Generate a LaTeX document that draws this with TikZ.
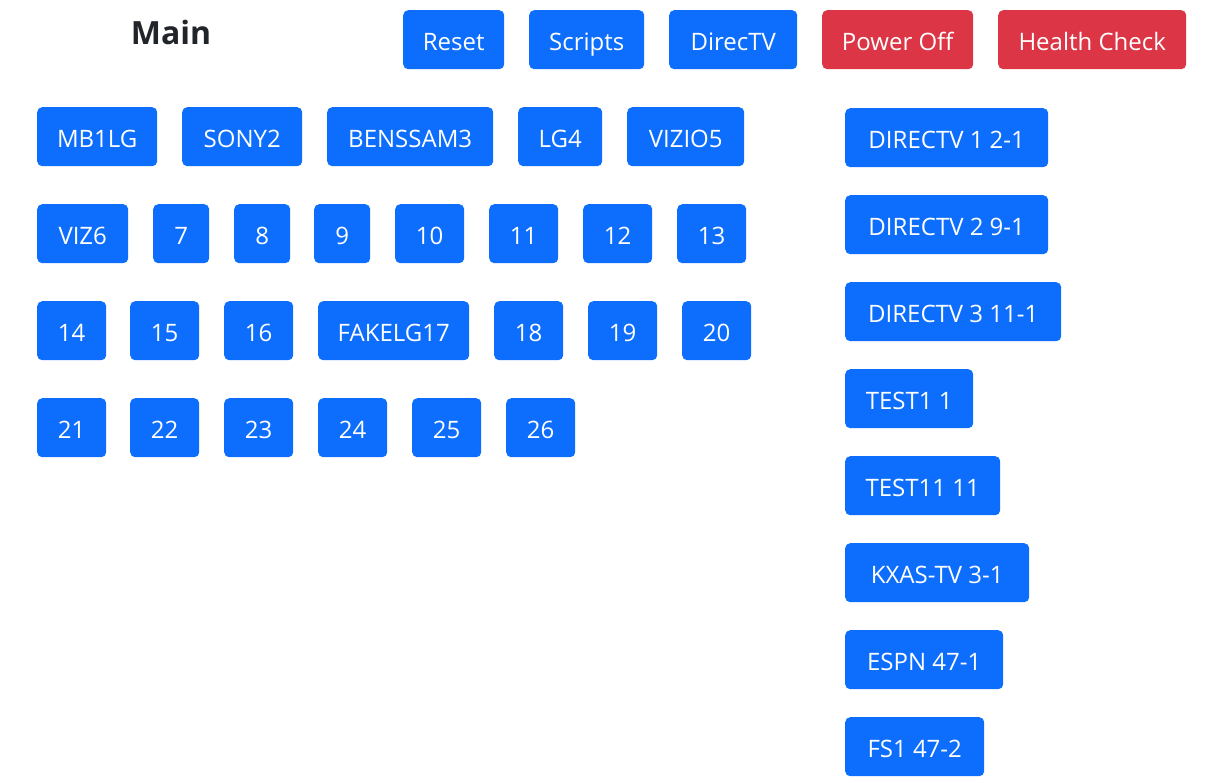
\documentclass[tikz,border=0pt]{standalone}
\usepackage{fontspec}
\setmainfont{Open Sans}
\definecolor{btnblue}{HTML}{0D6EFD}
\definecolor{btnred}{HTML}{DC3545}
\definecolor{headdark}{HTML}{212529}
\begin{document}
\begin{tikzpicture}[x=1pt,y=-1pt,
	btn/.style={anchor=north west,rounded corners=5pt,inner sep=0pt,
		minimum height=59pt,text height=22pt,text depth=0pt,text=white,
		font=\fontsize{24}{24}\selectfont},
	bluebtn/.style={btn,fill=btnblue},
	redbtn/.style={btn,fill=btnred}]
	\useasboundingbox (0,0) rectangle (1222,782);
	% heading and top bar
	\node[text=headdark,font=\fontsize{32}{32}\selectfont\bfseries] (main) at (171,32) {Main};
	\node[bluebtn,minimum width=101pt] (reset) at (403,10) {Reset};
	\node[bluebtn,minimum width=115pt] (scripts) at (529,10) {Scripts};
	\node[bluebtn,minimum width=128pt] (directv) at (669,10) {DirecTV};
	\node[redbtn,minimum width=151pt] (poweroff) at (822,10) {Power Off};
	\node[redbtn,minimum width=188pt] (health) at (998,10) {Health Check};
	% tv grid
	\node[bluebtn,minimum width=120pt] (tv1) at (37,107) {MB1LG};
	\node[bluebtn,minimum width=120pt] (tv2) at (182,107) {SONY2};
	\node[bluebtn,minimum width=166pt] (tv3) at (327,107) {BENSSAM3};
	\node[bluebtn,minimum width=84pt] (tv4) at (518,107) {LG4};
	\node[bluebtn,minimum width=117pt] (tv5) at (627,107) {VIZIO5};
	\node[bluebtn,minimum width=91pt] (tv6) at (37,204) {VIZ6};
	\node[bluebtn,minimum width=56pt] (tv7) at (153,204) {7};
	\node[bluebtn,minimum width=56pt] (tv8) at (234,204) {8};
	\node[bluebtn,minimum width=56pt] (tv9) at (314,204) {9};
	\node[bluebtn,minimum width=69pt] (tv10) at (395,204) {10};
	\node[bluebtn,minimum width=69pt] (tv11) at (489,204) {11};
	\node[bluebtn,minimum width=69pt] (tv12) at (583,204) {12};
	\node[bluebtn,minimum width=69pt] (tv13) at (677,204) {13};
	\node[bluebtn,minimum width=69pt] (tv14) at (37,301) {14};
	\node[bluebtn,minimum width=69pt] (tv15) at (130,301) {15};
	\node[bluebtn,minimum width=69pt] (tv16) at (224,301) {16};
	\node[bluebtn,minimum width=151pt] (tv17) at (318,301) {FAKELG17};
	\node[bluebtn,minimum width=69pt] (tv18) at (494,301) {18};
	\node[bluebtn,minimum width=69pt] (tv19) at (588,301) {19};
	\node[bluebtn,minimum width=69pt] (tv20) at (682,301) {20};
	\node[bluebtn,minimum width=69pt] (tv21) at (37,398) {21};
	\node[bluebtn,minimum width=69pt] (tv22) at (130,398) {22};
	\node[bluebtn,minimum width=69pt] (tv23) at (224,398) {23};
	\node[bluebtn,minimum width=69pt] (tv24) at (318,398) {24};
	\node[bluebtn,minimum width=69pt] (tv25) at (412,398) {25};
	\node[bluebtn,minimum width=69pt] (tv26) at (506,398) {26};
	% channels
	\node[bluebtn,minimum width=203pt] (ch1) at (845,108) {DIRECTV 1 2-1};
	\node[bluebtn,minimum width=203pt] (ch2) at (845,195) {DIRECTV 2 9-1};
	\node[bluebtn,minimum width=216pt] (ch3) at (845,282) {DIRECTV 3 11-1};
	\node[bluebtn,minimum width=128pt] (ch4) at (845,369) {TEST1 1};
	\node[bluebtn,minimum width=155pt] (ch5) at (845,456) {TEST11 11};
	\node[bluebtn,minimum width=184pt] (ch6) at (845,543) {KXAS-TV 3-1};
	\node[bluebtn,minimum width=158pt] (ch7) at (845,630) {ESPN 47-1};
	\node[bluebtn,minimum width=139pt] (ch8) at (845,717) {FS1 47-2};
\end{tikzpicture}
\end{document}
